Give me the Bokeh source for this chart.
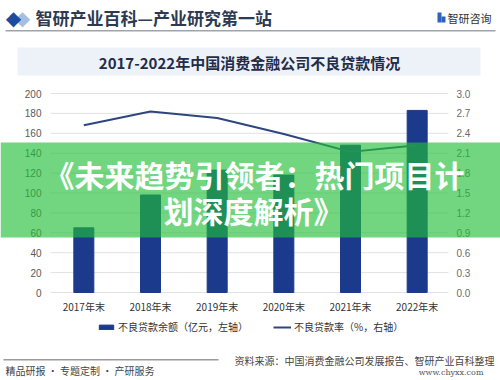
from bokeh.plotting import figure
from bokeh.models import (ColumnDataSource, Range1d, LinearAxis,
                          Label, BoxAnnotation, Legend, LegendItem, FixedTicker, NumeralTickFormatter)
from bokeh.embed import file_html
from bokeh.resources import INLINE

years = ["2017年末", "2018年末", "2019年末", "2020年末", "2021年末", "2022年末"]
npl_balance = [65, 98, 123, 118, 148, 183]          # 不良贷款余额, 亿元, left axis
npl_ratio = [2.52, 2.73, 2.63, 2.39, 2.12, 2.22]    # 不良贷款率, %, right axis
left_ticks = [0, 20, 40, 60, 80, 100, 120, 140, 160, 180, 200]
right_ticks = [0.0, 0.3, 0.6, 0.9, 1.2, 1.5, 1.8, 2.1, 2.4, 2.7, 3.0]

# page layout (pixels)
W, H = 500, 380
PL, PR, PT, PB = 50, 448, 93, 292   # plot area inside the page
XS, XE = -1.25, 6.25                # category slots spread over the page width

pos = list(range(len(years)))       # slot of each category
src = ColumnDataSource(dict(x=pos, bal=npl_balance, rate=npl_ratio))

lmax, rmax = left_ticks[-1], right_ticks[-1]
upp_l = lmax / (PB - PT)
upp_r = rmax / (PB - PT)
ppu = W / (XE - XS)


def xdata(px):
    return XS + px / ppu


p = figure(width=W, height=H,
           x_range=Range1d(XS, XE),
           y_range=Range1d(-(H - PB) * upp_l, lmax + PT * upp_l),
           x_axis_location=None, y_axis_location=None,
           output_backend="svg", toolbar_location=None,
           min_border_left=0, min_border_right=0, min_border_top=0, min_border_bottom=0)
p.extra_y_ranges = {"r": Range1d(-(H - PB) * upp_r, rmax + PT * upp_r)}
p.outline_line_color = None
p.background_fill_color = "white"
p.border_fill_color = "white"
p.xgrid.visible = False
p.ygrid.visible = False

# gridlines of the plot area
p.segment(x0=xdata(PL), x1=xdata(PR), y0=left_ticks, y1=left_ticks,
          line_color="#e2e2e2", line_width=1)

bars = p.vbar(x="x", top="bal", width=0.3, source=src, color="#1b3a8c")
line = p.line(x="x", y="rate", source=src, y_range_name="r", line_color="#2e4580", line_width=2)

# axes fixed at the plot area edges
ly = LinearAxis(fixed_location=xdata(PL), ticker=FixedTicker(ticks=left_ticks))
ry = LinearAxis(y_range_name="r", fixed_location=xdata(PR),
                ticker=FixedTicker(ticks=right_ticks), formatter=NumeralTickFormatter(format="0.0"))
ax = LinearAxis(fixed_location=0, ticker=FixedTicker(ticks=pos),
                major_label_overrides={i: y for i, y in zip(pos, years)})
for a, col, so, font in ((ly, "#595959", 9, "Liberation Sans"), (ry, "#6b6b6b", 8, "Liberation Sans"),
                         (ax, "#333333", 6, "Noto Sans CJK SC")):
    a.axis_line_color = None
    a.major_tick_line_color = None
    a.minor_tick_line_color = None
    a.major_tick_out = 0
    a.major_tick_in = 0
    a.major_label_text_font = font
    a.major_label_text_font_size = "10px"
    a.major_label_text_color = col
    a.major_label_standoff = so
p.add_layout(ly, "left")
p.add_layout(ry, "right")
p.add_layout(ax, "below")

# legend (location = bottom-left corner, measured from page bottom)
legend = Legend(items=[LegendItem(label="不良贷款余额（亿元，左轴）", renderers=[bars]),
                       LegendItem(label="不良贷款率（%，右轴）", renderers=[line])],
                orientation="horizontal", location=(97, H - 334),
                label_text_font="Noto Sans CJK SC", label_text_font_size="10px",
                label_text_color="#333333", glyph_width=18, glyph_height=6,
                label_height=14, label_standoff=3, spacing=25, padding=0, margin=0,
                background_fill_alpha=0, border_line_color=None)
p.add_layout(legend, "center")


def box(l, r, t, b, color, alpha=1.0):
    p.add_layout(BoxAnnotation(left=l, right=r, top=H - t, bottom=H - b,
                               left_units="screen", right_units="screen",
                               top_units="screen", bottom_units="screen",
                               fill_color=color, fill_alpha=alpha, line_alpha=0, level="annotation"))


def label(text, cx, cy, size, color, font="Noto Sans CJK SC", style="normal", align="left"):
    p.add_layout(Label(x=cx, y=H - cy, x_units="screen", y_units="screen", text=text,
                       text_font=font, text_font_size=size, text_color=color,
                       text_font_style=style, text_align=align, text_baseline="middle"))


# header
label("◆", 22, 17, "20px", "#a9bde0", font="DejaVu Sans", align="center")
label("◆", 13, 17, "20px", "#1d4b9e", font="DejaVu Sans", align="center")
label("智研产业百科—产业研究第一站", 35, 17, "17px", "#2c3a52", style="bold")
box(437, 441, 12, 22, "#2f62b8")
box(441, 445, 16, 22, "#2f62b8")
label("智研咨询", 447, 17, "11px", "#333333")
box(5, 495, 29.5, 31, "#9ea4ad")

# subtitle box
box(17, 480, 47, 75, "#edf1f8")
label("2017-2022年中国消费金融公司不良贷款情况", 249, 61.5, "15px", "#1f2d4a", style="bold", align="center")

# footer
box(3, 218, 358.5, 360, "#9a9a9a")
label("精品研报 · 专题定制 · 产研服务", 5, 370, "10px", "#444444")
label("资料来源：中国消费金融公司发展报告、智研产业百科整理", 494, 360, "10px", "#444444", align="right")
label("www.chyxx.com", 483, 372, "8px", "#555555", font="DejaVu Serif", align="right")

# green banner
box(0, 500, 142, 237, "#21bf37", 0.64)
label("《未来趋势引领者：热门项目计", 254, 173, "30px", "#ffffff", style="bold", align="center")
label("划深度解析》", 253, 209, "30px", "#ffffff", style="bold", align="center")

open("out.html", "w").write(file_html(p, INLINE))
